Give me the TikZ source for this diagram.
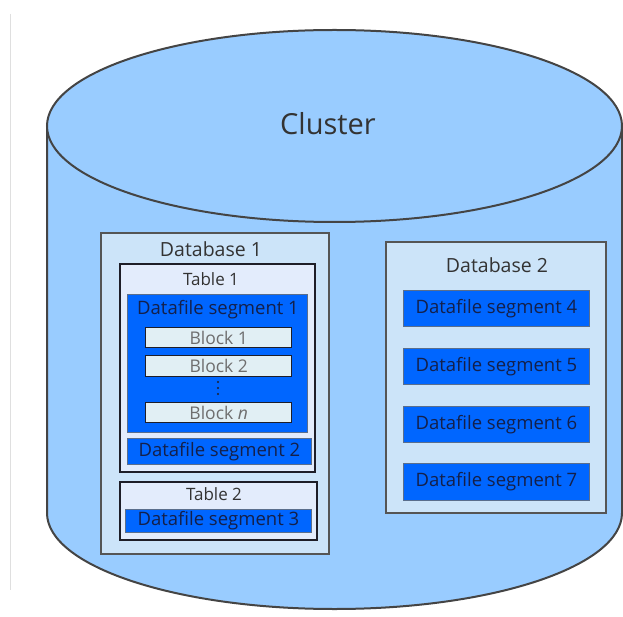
\documentclass[tikz,border=0pt]{standalone}
\usepackage{fontspec}
\setmainfont{Open Sans}
\definecolor{cylfill}{HTML}{99CCFF}
\definecolor{cyledge}{HTML}{444444}
\definecolor{dbfill}{HTML}{CCE4F9}
\definecolor{dbedge}{HTML}{555555}
\definecolor{tabfill}{HTML}{E3ECFC}
\definecolor{tabedge}{HTML}{1E1E28}
\definecolor{segfill}{HTML}{0066FF}
\definecolor{segedge}{HTML}{5A6E8C}
\definecolor{segtext}{HTML}{14204A}
\definecolor{blkfill}{HTML}{E1EFF4}
\definecolor{blktext}{HTML}{6E6E6E}
\definecolor{titletext}{HTML}{333333}
% place a rectangle by its top-left and bottom-right corners (in px, y downwards)
\newcommand\cornerbox[7][]{%
  \node[#1, anchor=north west, minimum width={(#5-#3)*1pt}, minimum height={(#6-#4)*1pt}]
    (#2) at (#3,#4) {#7};}
\tikzset{
  dbbox/.style={draw=dbedge, fill=dbfill, line width=2pt, inner sep=0pt},
  tabbox/.style={draw=tabedge, fill=tabfill, line width=1.6pt, inner sep=0pt},
  segbox/.style={draw=segedge, fill=segfill, line width=0.8pt, inner sep=0pt,
    text=segtext, font=\fontsize{18.5}{21}\selectfont},
  blkbox/.style={draw=tabedge, fill=blkfill, line width=1.4pt, inner sep=0pt,
    text=blktext, font=\fontsize{17.5}{20}\selectfont},
  title/.style={text=titletext, inner sep=0pt, font=\fontsize{19.5}{22}\selectfont},
  subtitle/.style={text=titletext, inner sep=0pt, font=\fontsize{17}{20}\selectfont},
}
\begin{document}
\begin{tikzpicture}[x=1pt, y=-1pt]
\useasboundingbox (0,0) rectangle (623,617);
\fill[white] (0,0) rectangle (623,617);
% page margin rule
\draw[gray!25, line width=0.8pt] (10.5,14) -- (10.5,590);
% cylinder body and top
\filldraw[fill=cylfill, draw=cyledge, line width=2pt]
  (47,126) -- (47,513) arc[start angle=180, end angle=0, x radius=287.5, y radius=96]
  -- (622,126);
\filldraw[fill=cylfill, draw=cyledge, line width=2pt]
  (334.5,126) ellipse[x radius=287.5, y radius=96];
\node[text=titletext, font=\fontsize{29}{34}\selectfont] (cluster) at (328,124) {Cluster};

% Database 1
\cornerbox[dbbox]{db1}{100}{232}{328}{553}{}
\node[title] (db1t) at (211,249) {Database 1};
\cornerbox[tabbox]{tab1}{119}{263}{314}{471}{}
\node[subtitle] (tab1t) at (211,279) {Table 1};
\cornerbox[segbox]{seg1}{127}{294}{307}{432}{}
\node[segbox, draw=none, fill=none] (seg1t) at (218,310) {Datafile segment 1};
\cornerbox[blkbox]{blk1}{145}{327}{291}{347}{Block 1}
\cornerbox[blkbox]{blk2}{145}{355}{291}{376}{Block 2}
\cornerbox[blkbox]{blkn}{145}{402}{291}{422}{Block \textit{n}}
\foreach \yy in {382,388,394} \fill[tabedge] (218,\yy) circle[radius=1.2];
\cornerbox[segbox]{seg2}{127}{438}{311}{464}{Datafile segment 2}
\cornerbox[tabbox]{tab2}{119}{481}{316}{539}{}
\node[subtitle] (tab2t) at (214,494) {Table 2};
\cornerbox[segbox]{seg3}{125}{509}{311}{532}{Datafile segment 3}

% Database 2
\cornerbox[dbbox]{db2}{385}{241}{605}{512}{}
\node[title] (db2t) at (497,265) {Database 2};
\cornerbox[segbox]{seg4}{403}{290}{589}{326}{Datafile segment 4}
\cornerbox[segbox]{seg5}{403}{348}{589}{384}{Datafile segment 5}
\cornerbox[segbox]{seg6}{403}{406}{589}{442}{Datafile segment 6}
\cornerbox[segbox]{seg7}{403}{463}{589}{500}{Datafile segment 7}
\end{tikzpicture}
\end{document}
